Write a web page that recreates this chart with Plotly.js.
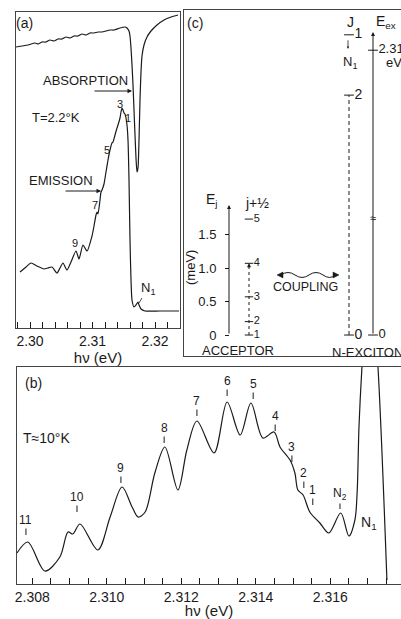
<!DOCTYPE html>
<html><head><meta charset="utf-8">
<script src="https://cdn.plot.ly/plotly-3.0.1.min.js"></script>
<style>html,body{margin:0;padding:0;background:#fff}</style>
</head><body><div id="chart" style="width:401px;height:619px"></div>
<script>
// ---------- Panel (a): T = 2.2 K ----------
const absE = [2.29776,2.29872,2.29968,2.3008,2.30128,2.30192,2.30256,2.3032,2.30384,2.30448,2.30512,2.30576,2.3064,2.30704,2.30768,2.30832,2.30896,2.3096,2.31024,2.31088,2.31152,2.31216,2.3128,2.31344,2.3144,2.3152,2.31552,2.31584,2.316,2.31616,2.31632,2.31648,2.31664,2.3168,2.31696,2.31712,2.31728,2.31744,2.3176,2.31776,2.31792,2.31824,2.31872,2.31936,2.32032,2.32144,2.32256,2.32368];
const absI = [281,282,283,285,284,286,286,288,287,289,289,291,290,292,292,294,293,295,295,296,296,297,298,298,300,301,300,297,292,280,263,243,218,193,170,156,160,188,228,256,272,283,291,297,303,308,311,313];
const emiE = [2.2984,2.29936,2.30016,2.30112,2.30224,2.30288,2.30352,2.30432,2.3048,2.30528,2.30592,2.30656,2.30736,2.30784,2.30848,2.30912,2.30992,2.31024,2.31056,2.31072,2.31088,2.3112,2.31136,2.31152,2.31184,2.31216,2.31248,2.3128,2.31312,2.31328,2.3136,2.31392,2.31408,2.3144,2.31456,2.31472,2.31488,2.31504,2.3152,2.31536,2.31552,2.31568,2.31584,2.316,2.31616,2.31632,2.31664,2.31696,2.31728,2.31744,2.31776,2.3184,2.3208,2.32384];
const emiI = [56,61,65,62,59,60,61,55,60,65,58,66,77,69,83,77,92,102,113,116,114,128,136,138,144,156,168,178,185,186,193,200,203,210,216,220,218,215,214,210,203,188,148,88,48,28,21,23,26,23,19,17,17,17];
const aPeakText = ['3','1','5','7','9'];
const aPeakE = [2.3144,2.31568,2.31232,2.3104,2.3072];
const aPeakI = [224,210,178,123,85];

// ---------- Panel (b): T ≈ 10 K ----------
const bE = [2.30759,2.30788,2.30834,2.30874,2.30896,2.30909,2.30928,2.30976,2.31009,2.31041,2.31068,2.31084,2.31103,2.31129,2.31156,2.31191,2.31215,2.31242,2.31288,2.31323,2.31358,2.31387,2.31419,2.31449,2.31465,2.31492,2.31505,2.31513,2.31527,2.31545,2.31572,2.31596,2.31628,2.3165,2.31666,2.31672,2.31677,2.31685,2.31706,2.31728,2.31752];
const bI = [31,42,13,27,52,50,60,34,67,97,77,67,72,111,137,94,134,163,131,182,149,181,146,152,137,124,111,94,89,72,61,51,71,48,64,91,157,217,330,217,4];
const bPeakText = ['11','10','9','8','7','6','5','4','3','2','1','N<sub>2</sub>'];
const bPeakE = [2.30783,2.3092,2.31038,2.31154,2.31242,2.31323,2.31393,2.31452,2.31497,2.31529,2.31553,2.31626];
const bPeakI = [49,72,101,141,168,188,185,153,122,96,79,75];

// ---------- Panel (c): level scheme ----------
const accLabel = ['1','2','3','4','5'];        // j + 1/2
const accE = [0,0.2,0.57,1.07,1.73];             // meV
const ejTicks = [0,0.5,1.0,1.5];
const ejTickText = ['0','0.5','1.0','1.5'];
const excLabel = ['0','2','1'];                  // J
const excE = [0,3.58,4.48];                      // schematic height
const eexTickText = ['0','2.31'];
const eexTickE = [0,4.25];

const F = 'Liberation Sans, Arial, sans-serif';
const ink = '#1a1a1a';
const W = 401, H = 619;
const fx = p => p / W, fy = p => 1 - p / H;

const traces = [
  {x: absE, y: absI, xaxis:'x', yaxis:'y', mode:'lines', line:{color:ink, width:1.2, shape:'spline', smoothing:0.6}, hoverinfo:'skip'},
  {x: emiE, y: emiI, xaxis:'x', yaxis:'y', mode:'lines', line:{color:ink, width:1.2, shape:'spline', smoothing:0.6}, hoverinfo:'skip'},
  {x: bE, y: bI, xaxis:'x2', yaxis:'y2', mode:'lines', line:{color:ink, width:1.2, shape:'spline', smoothing:0.9}, hoverinfo:'skip'},
  // acceptor dashed ladder
  {x: [249,249], y: [accE[0], accE[3]], xaxis:'x3', yaxis:'y4', mode:'lines', line:{color:ink, width:1, dash:'3px,3px'}},
  {x: accE.map(()=>249), y: accE, text: accLabel, xaxis:'x3', yaxis:'y4', mode:'markers+text', textposition:'middle right',
   marker:{symbol:'line-ew', size:6, line:{color:ink, width:1}}, textfont:{family:F, size:11, color:ink}},
  // exciton J ladder
  {x: [349,349], y: [excE[0], excE[1]], xaxis:'x3', yaxis:'y3', mode:'lines', line:{color:ink, width:1, dash:'4px,3px'}},
  {x: excE.map(()=>349), y: excE, text: excLabel, xaxis:'x3', yaxis:'y3', mode:'markers+text', textposition:'middle right',
   marker:{symbol:'line-ew', size:7, line:{color:ink, width:1}}, textfont:{family:F, size:14, color:ink}},
  // E_ex axis ticks
  {x: eexTickE.map(()=>373), y: eexTickE, text: eexTickText, xaxis:'x3', yaxis:'y3', mode:'markers+text', textposition:'middle right',
   marker:{symbol:'line-ew', size:7, line:{color:ink, width:1}}, textfont:{family:F, size:13, color:ink}}
];

const ann = [];
const A = (o) => ann.push(Object.assign({showarrow:false, font:{family:F, size:13, color:ink}}, o));
// panel (a)
A({xref:'x', yref:'y', x:2.29904, y:305, text:'(a)', font:{family:F, size:14, color:ink}});
A({xref:'x', yref:'y', x:2.3088, y:248, text:'ABSORPTION'});
A({xref:'x', yref:'y', x:2.31632, y:237, axref:'x', ayref:'y', ax:2.31008, ay:237, text:'', showarrow:true, arrowhead:2, arrowsize:0.9, arrowwidth:1, arrowcolor:ink});
A({xref:'x', yref:'y', x:2.30416, y:211, text:'T=2.2°K'});
A({xref:'x', yref:'y', x:2.30496, y:148, text:'EMISSION'});
A({xref:'x', yref:'y', x:2.31136, y:137, axref:'x', ayref:'y', ax:2.30544, ay:137, text:'', showarrow:true, arrowhead:2, arrowsize:0.9, arrowwidth:1, arrowcolor:ink});
aPeakText.forEach((t,i)=>A({xref:'x', yref:'y', x:aPeakE[i], y:aPeakI[i], text:t, font:{family:F, size:11, color:ink}}));
A({xref:'x', yref:'y', x:2.31744, y:25, text:'N<sub>1</sub>', showarrow:true, arrowhead:0, ax:9, ay:-15, arrowwidth:0.8, arrowcolor:ink, font:{family:F, size:13, color:ink}});
// panel (b)
A({xref:'x2', yref:'y2', x:2.30802, y:201, text:'(b)', font:{family:F, size:14, color:ink}});
A({xref:'x2', yref:'y2', x:2.30839, y:146, text:'T≈10°K', font:{family:F, size:14, color:ink}});
bPeakText.forEach((t,i)=>A({xref:'x2', yref:'y2', x:bPeakE[i], y:bPeakI[i], text:t, showarrow:true, arrowhead:0, ax:0, ay:-15, arrowwidth:1, arrowcolor:ink, font:{family:F, size:12, color:ink}}));
A({xref:'x2', yref:'y2', x:2.31705, y:61, text:'N<sub>1</sub>', font:{family:F, size:14, color:ink}});
// panel (c)
A({xref:'x3', yref:'y3', x:195, y:4.66, text:'(c)', font:{family:F, size:14, color:ink}});
A({xref:'x3', yref:'y3', x:212, y:2.01, text:'E<sub>j</sub>', font:{family:F, size:14, color:ink}});
A({xref:'x3', yref:'y3', x:257, y:1.97, text:'j+½', font:{family:F, size:14, color:ink}});
A({xref:'x3', yref:'y3', x:190, y:1.0, text:'(meV)', textangle:-90, font:{family:F, size:13, color:ink}});
A({xref:'x3', yref:'y3', x:229, y:1.94, axref:'x3', ayref:'y3', ax:229, ay:0, text:'', showarrow:true, arrowhead:2, arrowsize:0.8, arrowwidth:1, arrowcolor:ink});
A({xref:'x3', yref:'y3', x:249, y:accE[3], axref:'x3', ayref:'y3', ax:249, ay:accE[3]-0.08, text:'', showarrow:true, arrowhead:2, arrowsize:0.8, arrowwidth:1, arrowcolor:ink});
A({xref:'x3', yref:'y3', x:305, y:0.716, text:'COUPLING', font:{family:F, size:12.5, color:ink}});
A({xref:'x3', yref:'y3', x:238, y:-0.224, text:'ACCEPTOR', font:{family:F, size:13, color:ink}});
A({xref:'x3', yref:'y3', x:330, y:-0.254, xanchor:'left', text:'N-EXCITON', font:{family:F, size:13, color:ink}});
A({xref:'x3', yref:'y3', x:373, y:4.52, axref:'x3', ayref:'y3', ax:373, ay:0, text:'', showarrow:true, arrowhead:2, arrowsize:0.8, arrowwidth:1, arrowcolor:ink});
A({xref:'x3', yref:'y3', x:373, y:1.75, text:'≈', font:{family:F, size:11, color:ink}});
A({xref:'x3', yref:'y3', x:350, y:4.67, text:'J', font:{family:F, size:14, color:ink}});
A({xref:'x3', yref:'y3', x:386, y:4.67, text:'E<sub>ex</sub>', font:{family:F, size:14, color:ink}});
A({xref:'x3', yref:'y3', x:394, y:4.07, text:'eV', font:{family:F, size:13, color:ink}});
A({xref:'x3', yref:'y3', x:350, y:4.07, text:'N<sub>1</sub>', font:{family:F, size:13, color:ink}});
A({xref:'x3', yref:'y3', x:348, y:4.27, axref:'x3', ayref:'y3', ax:348, ay:4.42, text:'', showarrow:true, arrowhead:2, arrowsize:0.6, arrowwidth:0.8, arrowcolor:ink});

const shapes = [
  {type:'path', xref:'x3', yref:'y3', path:'M281,0.896 Q288,0.97 295,0.896 T309,0.896 T323,0.896 T335,0.896', line:{color:ink, width:1}},
  {type:'path', xref:'x3', yref:'y3', path:'M277,0.896 L283,0.94 L283,0.852 Z', fillcolor:ink, line:{color:ink, width:0.5}},
  {type:'path', xref:'x3', yref:'y3', path:'M339,0.896 L333,0.94 L333,0.852 Z', fillcolor:ink, line:{color:ink, width:0.5}}
];

const frame = {showline:true, linecolor:'#444', linewidth:1, showgrid:false, zeroline:false};
const layout = {
  width:W, height:H, margin:{l:0,r:0,t:0,b:0}, showlegend:false,
  paper_bgcolor:'#fff', plot_bgcolor:'rgba(0,0,0,0)', font:{family:F, color:ink},
  xaxis: Object.assign({}, frame, {domain:[fx(16), fx(180)], range:[2.29776, 2.324], anchor:'y', mirror:true,
    dtick:0.01, tick0:2.30, tickformat:'.2f', ticks:'inside', ticklen:6, tickcolor:ink,
    minor:{dtick:0.002, ticks:'inside', ticklen:6, tickcolor:ink},
    tickfont:{family:F, size:14, color:ink}, title:{text:'hν (eV)', font:{family:F, size:15, color:ink}, standoff:2}}),
  yaxis: Object.assign({}, frame, {domain:[fy(328), fy(12)], range:[0,316], anchor:'x', mirror:true, showticklabels:false, ticks:''}),
  xaxis2: Object.assign({}, frame, {domain:[fx(17), 1], range:[2.30759, 2.317898], anchor:'y2', mirror:true,
    dtick:0.002, tick0:2.308, tickformat:'.3f', ticks:'inside', ticklen:6, tickcolor:ink,
    minor:{dtick:0.0005, ticks:'inside', ticklen:6, tickcolor:ink},
    tickfont:{family:F, size:14, color:ink}, title:{text:'hν (eV)', font:{family:F, size:15, color:ink}, standoff:2}}),
  yaxis2: Object.assign({}, frame, {domain:[fy(584), fy(367)], range:[0,217], anchor:'x2', showticklabels:false, ticks:''}),
  xaxis3: Object.assign({}, frame, {domain:[fx(184), 1], range:[184, 401], anchor:'y3', mirror:true, showticklabels:false, ticks:''}),
  yaxis3: Object.assign({}, frame, {domain:[fy(356), fy(10)], range:[-0.313, 4.85], anchor:'x3', showticklabels:false, ticks:''}),
  yaxis4: {overlaying:'y3', anchor:'free', position:fx(229), side:'left', range:[-0.313, 4.85], showline:false, showgrid:false, zeroline:false,
    tickvals:ejTicks, ticktext:ejTickText, ticks:'outside', ticklen:4, tickcolor:ink, ticklabelstandoff:6, tickfont:{family:F, size:13, color:ink}},
  annotations: ann, shapes: shapes
};
Plotly.newPlot('chart', traces, layout, {staticPlot:true, displayModeBar:false});
</script></body></html>
